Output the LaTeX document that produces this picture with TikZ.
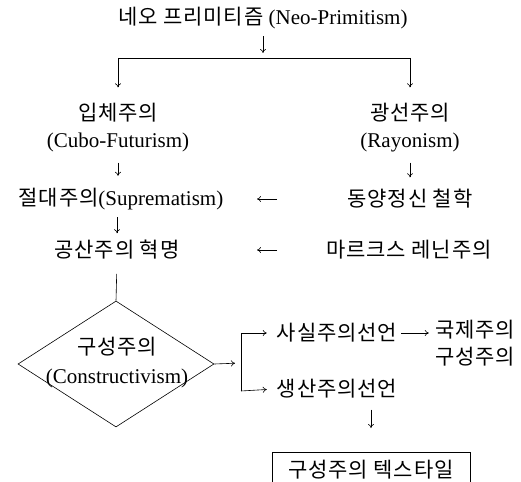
\documentclass[tikz,border=0pt]{standalone}
\usepackage{fontspec}
\setmainfont{Liberation Serif}
\newfontfamily\kr[LetterSpace=4]{Noto Sans CJK KR}
\usetikzlibrary{arrows.meta, shapes.geometric}
\tikzset{
	txt/.style={inner sep=2pt, align=center},
	wire/.style={line width=0.6pt},
	arr/.style={wire, -{To[length=4pt, width=6pt]}},
}
\begin{document}
\begin{tikzpicture}[x=1pt, y=-1pt, font=\fontsize{21}{27}\selectfont]
	\useasboundingbox (0, 0) rectangle (521, 481);
	% Paths, nodes and wires:
	\node[txt] (neo) at (263, 18){{\kr 네오 프리미티즘} (Neo-Primitism)};
	\coordinate (split) at (263, 58);
	\coordinate (splitL) at (118, 58);
	\coordinate (splitR) at (410, 58);
	\node[txt] (cubo) at (118, 128){{\kr 입체주의}\\(Cubo-Futurism)};
	\node[txt] (rayo) at (410, 128){{\kr 광선주의}\\(Rayonism)};
	\node[txt] (supr) at (121, 199){{\kr 절대주의}(Suprematism)};
	\node[txt] (east) at (410, 199){{\kr 동양정신 철학}};
	\node[txt] (comm) at (117, 250){{\kr 공산주의 혁명}};
	\node[txt] (marx) at (409, 250){{\kr 마르크스 레닌주의}};
	\coordinate (gapR) at (277, 0);
	\coordinate (gapL) at (257, 0);
	\node[shape=diamond, draw, wire, minimum width=196pt, minimum height=126pt, inner sep=0pt] (dia) at (116, 364){};
	\node[txt] (cons) at (117, 363){{\kr 구성주의}\\[2pt](Constructivism)};
	\coordinate (forkM) at (241, 363);
	\coordinate (forkT) at (241, 333);
	\coordinate (forkB) at (241, 391);
	\node[txt] (real) at (337, 333){{\kr 사실주의선언}};
	\node[txt] (prod) at (337, 389){{\kr 생산주의선언}};
	\node[txt, align=right, anchor=north east] (intl) at (517, 318){{\kr 국제주의}\\{\kr 구성주의}};
	\node[txt, draw, wire, minimum width=198pt, minimum height=34pt, anchor=north] (tex) at (371, 452){{\kr 구성주의 텍스타일}};
	% Connectors:
	\draw[arr, shorten <=5pt, shorten >=5pt] (neo) -- (split);
	\draw[wire] (splitL) -- (splitR);
	\draw[arr, shorten >=14pt] (splitL) -- (splitL |- cubo.north);
	\draw[arr, shorten >=14pt] (splitR) -- (splitR |- rayo.north);
	\draw[arr, shorten <=8pt, shorten >=10pt] (cubo.south) -- (cubo.south |- supr.north);
	\draw[arr, shorten <=8pt, shorten >=10pt] (rayo.south) -- (rayo.south |- east.north);
	\draw[arr, shorten <=5pt, shorten >=5pt] (comm |- supr.south) -- (comm.north);
	\draw[arr] (east.west -| gapR) -- (supr.east -| gapL);
	\draw[arr] (marx.west -| gapR) -- (comm.east -| gapL);
	\draw[wire, shorten <=12pt] (comm.south) -- (dia.north);
	\draw[arr, shorten >=6pt] (dia.east) -- (forkM);
	\draw[wire] (forkT) -- (forkB);
	\draw[arr, shorten >=8pt] (forkT) -- (real.west);
	\draw[arr, shorten >=8pt] (forkB) -- (prod.west);
	\draw[arr, shorten <=2pt, shorten >=4pt] (real.east) -- (real.east -| intl.west);
	\draw[arr, shorten <=9pt, shorten >=24pt] (prod.south -| tex) -- (tex.north);
\end{tikzpicture}
\end{document}
